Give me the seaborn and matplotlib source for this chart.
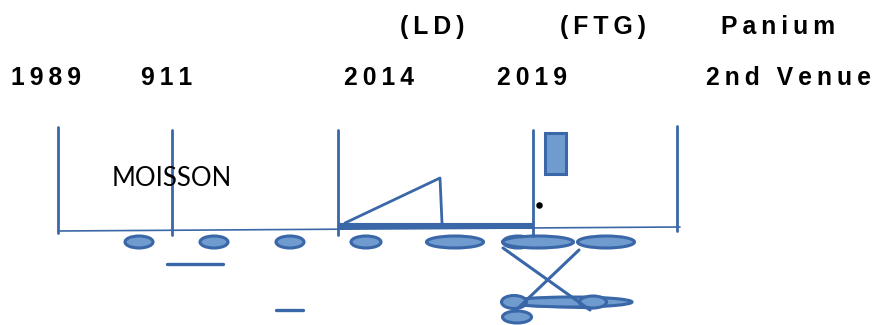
import matplotlib
matplotlib.use('Agg')
import matplotlib.pyplot as plt
from matplotlib.patches import Ellipse, Rectangle, Polygon
import seaborn as sns

# timeline labels
year_labels = ['1989', '911', '2014', '2019', '2nd Venue']
year_label_x = [46, 167, 379, 532, 788]
venue_labels = ['(LD)', '(FTG)', 'Panium']
venue_label_x = [432, 603, 778]

# vertical dividers on the timeline
divider_x = [58, 172, 338, 533, 677]
divider_top = [127, 130, 130, 130, 126]
divider_bottom = [233, 235, 235, 236, 231]

# ovals under the timeline
oval_x = [139, 214, 290, 366, 455, 518, 538, 606]
oval_w = [28, 28, 28, 30, 57, 30, 71, 57]

# lower cluster of ovals
low_oval_x = [571, 514, 593, 517]
low_oval_y = [302, 302, 302, 317]
low_oval_w = [122, 25, 27, 29]
low_oval_h = [10, 13, 12, 12]

# sloped marker (triangle) between 2014 and 2019
ramp_x = [345, 440, 442]
ramp_y = [223, 178, 223]

# crossing lines
cross_a_x = [503, 590]
cross_a_y = [248, 310]
cross_b_x = [579, 515]
cross_b_y = [250, 311]

line_col = '#3A67A7'
fill_col = '#6F9BCF'

sns.set_theme(style='white')
fig = plt.figure(figsize=(8.75, 3.25), dpi=100)
ax = fig.add_axes([0, 0, 1, 1])
ax.set_xlim(0, 875)
ax.set_ylim(325, 0)
ax.axis('off')

def spaced(s):
    return '\u2009'.join(s)

txt_kw = dict(ha='center', va='center', fontsize=17.8, fontweight='bold',
              color='black', family=['Liberation Sans', 'DejaVu Sans'])
for lab, x in zip(venue_labels, venue_label_x):
    ax.text(x, 27, spaced(lab), **txt_kw)
for lab, x in zip(year_labels, year_label_x):
    ax.text(x, 78, spaced(lab), **txt_kw)

# baseline
sns.lineplot(x=[58, 680], y=[231, 227], ax=ax, color=line_col, lw=1.2,
             estimator=None, sort=False)
# dividers
for x, t, b in zip(divider_x, divider_top, divider_bottom):
    ax.plot([x, x], [t, b], color=line_col, lw=2.0)
# thick bar
ax.plot([338, 533], [225.5, 225.5], color=line_col, lw=4.4, solid_capstyle='butt')
# ramp
sns.lineplot(x=ramp_x, y=ramp_y, ax=ax, color=line_col, lw=2.0,
             estimator=None, sort=False)

ax.text(172, 178, 'MOISSON', ha='center', va='center', fontsize=18.5,
        family=['Lato', 'DejaVu Sans'], color='black')

# box and dot after 2019
ax.add_patch(Rectangle((545, 133), 21, 41, facecolor=fill_col,
                       edgecolor=line_col, lw=2.2))
sns.scatterplot(x=[539], y=[205], ax=ax, color='black', s=22, linewidth=0)

# ovals
for x, w in zip(oval_x, oval_w):
    ax.add_patch(Ellipse((x, 242), w, 12, facecolor=fill_col,
                         edgecolor=line_col, lw=2.2))

# short dashes
ax.plot([167, 223], [264, 264], color=line_col, lw=2.4, solid_capstyle='round')
ax.plot([276, 303], [310, 310], color=line_col, lw=2.4, solid_capstyle='round')

# lower cluster
ax.add_patch(Polygon([(507, 299), (630, 301), (592, 308), (512, 305)],
                     closed=True, facecolor=fill_col, edgecolor=line_col, lw=2.0))
for x, y, w, h in zip(low_oval_x, low_oval_y, low_oval_w, low_oval_h):
    ax.add_patch(Ellipse((x, y), w, h, facecolor=fill_col,
                         edgecolor=line_col, lw=2.2))
sns.lineplot(x=cross_a_x, y=cross_a_y, ax=ax, color=line_col, lw=2.2,
             estimator=None, sort=False)
sns.lineplot(x=cross_b_x, y=cross_b_y, ax=ax, color=line_col, lw=2.2,
             estimator=None, sort=False)

fig.savefig('out.png', dpi=100)
